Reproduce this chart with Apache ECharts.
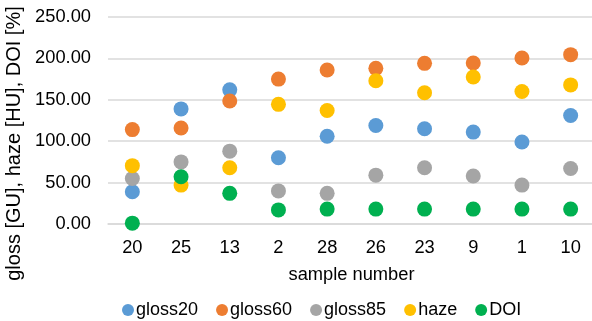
<!DOCTYPE html>
<html><head><meta charset="utf-8">
<script src="https://cdn.jsdelivr.net/npm/echarts@6/dist/echarts.min.js"></script>
<style>html,body{margin:0;padding:0;background:#fff}#c{width:592px;height:321px}</style>
</head><body><div id="c"></div>
<script>
const categories = ['20','25','13','2','28','26','23','9','1','10'];
const gloss20 = [39,139,162,80,106,119,115,111,99,131];
const gloss60 = [114,116,148.5,175,186,188,194,194.5,200.5,204.5];
const gloss85 = [55,75,88,40,37,59,68,58,47,67];
const haze = [70.5,47,68,144.5,137,173,158.6,177.5,160,168];
const DOI = [1,57,37,17,18,18,18,18,18,18];
const yTicks = {min:0, max:250, interval:50};

const names = ['gloss20','gloss60','gloss85','haze','DOI'];
const datas = [gloss20,gloss60,gloss85,haze,DOI];
const colors = ['#5B9BD5','#ED7D31','#A5A5A5','#FFC000','#00B050'];
const font = 'Liberation Sans, Arial, sans-serif';
const fs = 18.3;

const chart = echarts.init(document.getElementById('c'));
chart.setOption({
  animation:false,
  color:colors,
  grid:{left:108, right:-3, top:17, bottom:97, outerBoundsMode:'none', containLabel:false},
  legend:{
    data:names, top:301, left:122, icon:'circle', itemWidth:12, itemHeight:12,
    itemGap:18, padding:0,
    textStyle:{fontFamily:font, fontSize:18, color:'#000', padding:[0,0,0,-3]}
  },
  xAxis:{
    type:'category', data:categories, boundaryGap:true,
    name:'sample number', nameLocation:'middle', nameGap:42,
    nameTextStyle:{fontFamily:font, fontSize:fs, color:'#000'},
    axisLine:{show:true, lineStyle:{color:'#d9d9d9', width:1.5}},
    axisTick:{show:false},
    axisLabel:{fontFamily:font, fontSize:fs, color:'#000', margin:15}
  },
  yAxis:{
    type:'value', min:yTicks.min, max:yTicks.max, interval:yTicks.interval,
    name:'gloss [GU], haze [HU], DOI [%]', nameLocation:'middle', nameGap:73,
    nameTextStyle:{fontFamily:font, fontSize:20, color:'#000', padding:[0,46,0,0]},
    axisLine:{show:false}, axisTick:{show:false},
    splitLine:{lineStyle:{color:'#d9d9d9', width:1.5}},
    axisLabel:{fontFamily:font, fontSize:fs, color:'#000', margin:17,
      formatter:v=>v.toFixed(2)}
  },
  series:names.map((n,i)=>({
    name:n, type:'scatter', data:datas[i], symbol:'circle', symbolSize:15,
    itemStyle:{color:colors[i], opacity:1}
  }))
});
</script></body></html>
